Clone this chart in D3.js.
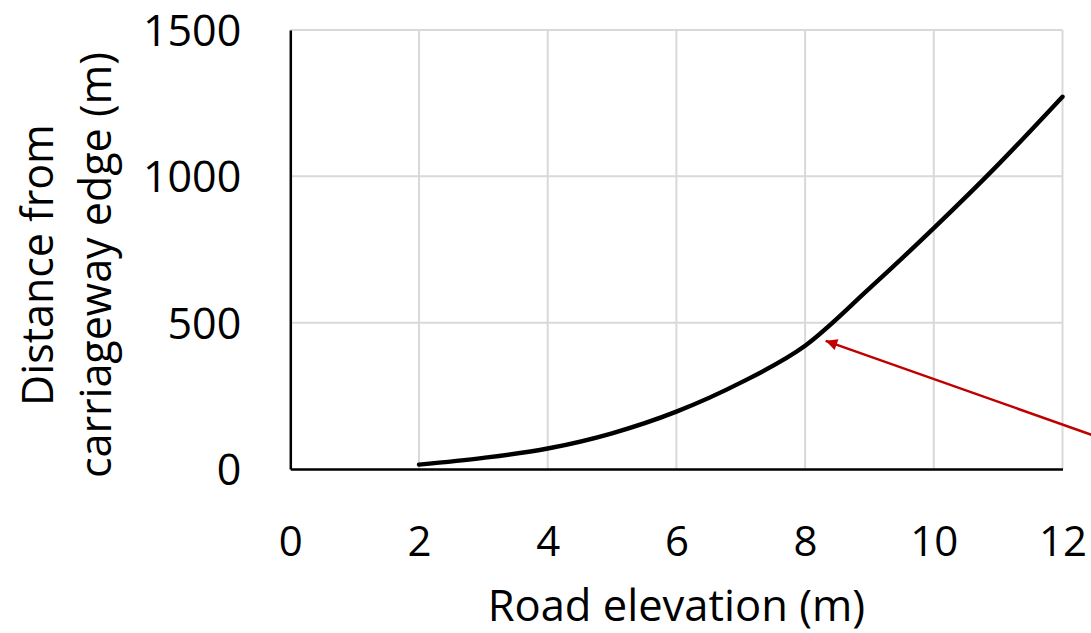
<!DOCTYPE html>
<html>
<head>
<meta charset="utf-8">
<script src="https://cdn.jsdelivr.net/npm/d3@7"></script>
<style>
  html, body { margin: 0; padding: 0; background: #fff; }
  svg { display: block; }
  text { font-family: "Open Sans", "Noto Sans", sans-serif; fill: #000; }
</style>
</head>
<body>
<svg id="chart" width="1091" height="633"></svg>
<script>
// Road elevation (m) and distance from carriageway edge (m)
const elevation = [2, 3, 4, 5, 6, 7, 8, 9, 10, 11, 12];
const distance  = [15, 38, 70, 122, 196, 295, 421, 617, 823, 1040, 1272];

const xTicks = [0, 2, 4, 6, 8, 10, 12];
const yTicks = [0, 500, 1000, 1500];

// Annotation arrow, in data units: tail (off to the right) -> tip on the curve
const arrowTail = [12.9, 82];
const arrowTip  = [8.32, 438];

const svg = d3.select("#chart");
const W = 1091, H = 633;

const x = d3.scaleLinear().domain([0, 12]).range([290.3, 1062.5]);
const y = d3.scaleLinear().domain([0, 1500]).range([469, 30]);

svg.append("rect").attr("width", W).attr("height", H).attr("fill", "#fff");

// gridlines
const grid = svg.append("g").attr("stroke", "#d9d9d9").attr("stroke-width", 2);
grid.selectAll("line.v").data(xTicks.filter(d => d > 0)).join("line")
  .attr("class", "v")
  .attr("x1", d => x(d)).attr("x2", d => x(d))
  .attr("y1", y(0)).attr("y2", y(1500));
grid.selectAll("line.h").data(yTicks.filter(d => d > 0)).join("line")
  .attr("class", "h")
  .attr("x1", x(0)).attr("x2", x(12))
  .attr("y1", d => y(d)).attr("y2", d => y(d));

// axes (lines only, no tick marks)
const fmt = d3.format("d");
const xAxis = d3.axisBottom(x).tickValues(xTicks).tickFormat(fmt).tickSize(0).tickPadding(57);
const yAxis = d3.axisLeft(y).tickValues(yTicks).tickFormat(fmt).tickSize(0).tickPadding(49);

const gx = svg.append("g").attr("transform", `translate(0,${y(0)})`).call(xAxis);
gx.select(".domain").attr("stroke", "#000").attr("stroke-width", 2.5);
gx.selectAll("text").attr("font-size", 42).attr("font-family", "Open Sans").attr("fill", "#000")
  .attr("dy", "0.71em");

const gy = svg.append("g").attr("transform", `translate(${x(0)},0)`).call(yAxis);
gy.select(".domain").attr("stroke", "#000").attr("stroke-width", 2.5);
gy.selectAll("text").attr("font-size", 43).attr("font-family", "Open Sans").attr("fill", "#000")
  .attr("dy", "0.36em");

// data line
const line = d3.line()
  .x((d, i) => x(elevation[i]))
  .y(d => y(d))
  .curve(d3.curveMonotoneX);

svg.append("path")
  .datum(distance)
  .attr("fill", "none")
  .attr("stroke", "#000")
  .attr("stroke-width", 4.4)
  .attr("stroke-linecap", "round")
  .attr("d", line);

// axis titles
svg.append("text")
  .attr("x", (x(0) + x(12)) / 2 + 0)
  .attr("y", 621)
  .attr("text-anchor", "middle")
  .attr("font-size", 43.5)
  .text("Road elevation (m)");

const yTitle = svg.append("g").attr("transform", "translate(0,265) rotate(-90)");
yTitle.append("text").attr("x", 0).attr("y", 53)
  .attr("text-anchor", "middle").attr("font-size", 43).text("Distance from");
yTitle.append("text").attr("x", 0).attr("y", 111)
  .attr("text-anchor", "middle").attr("font-size", 43).text("carriageway edge (m)");

// annotation arrow
const defs = svg.append("defs");
defs.append("marker")
  .attr("id", "arrowhead")
  .attr("viewBox", "0 0 10 10")
  .attr("refX", 10).attr("refY", 5)
  .attr("markerWidth", 5.5).attr("markerHeight", 4.6)
  .attr("markerUnits", "strokeWidth")
  .attr("orient", "auto")
  .append("path")
  .attr("d", "M0,0 L10,5 L0,10 Z")
  .attr("fill", "#c00000");

svg.append("line")
  .attr("x1", x(arrowTail[0])).attr("y1", y(arrowTail[1]))
  .attr("x2", x(arrowTip[0])).attr("y2", y(arrowTip[1]))
  .attr("stroke", "#c00000")
  .attr("stroke-width", 2.5)
  .attr("marker-end", "url(#arrowhead)");
</script>
</body>
</html>
